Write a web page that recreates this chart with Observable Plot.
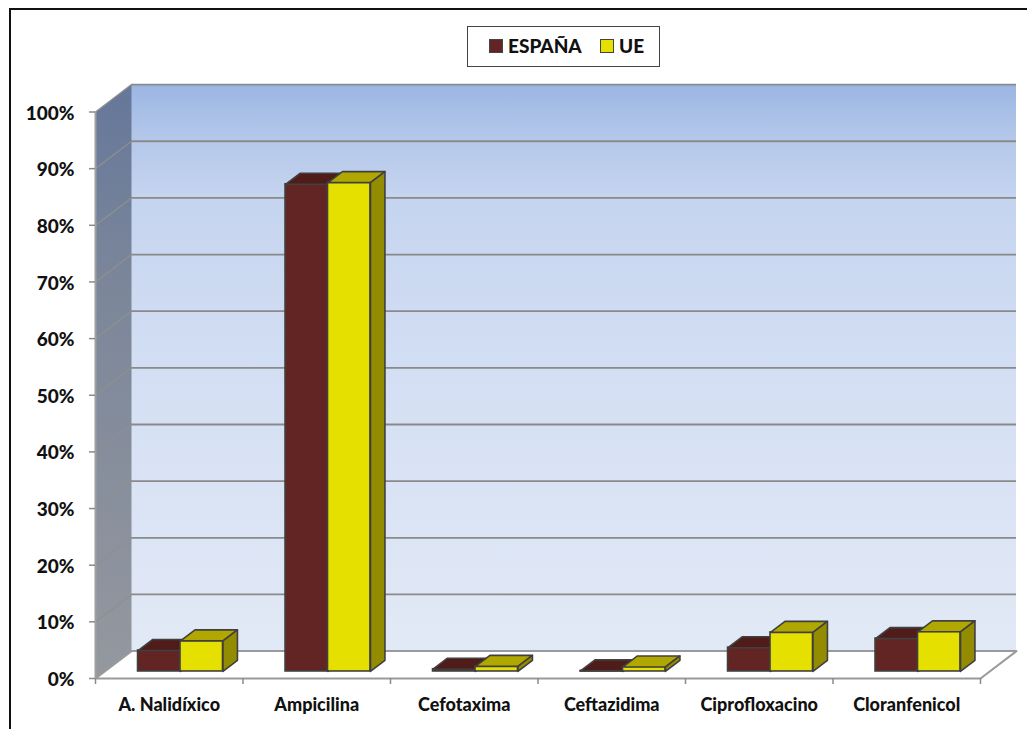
<!DOCTYPE html>
<html lang="es">
<head>
<meta charset="utf-8">
<script src="https://cdn.jsdelivr.net/npm/d3@7"></script>
<script src="https://cdn.jsdelivr.net/npm/@observablehq/plot@0.6"></script>
<style>
  html, body { margin: 0; padding: 0; background: #fff; overflow: hidden; }
  #chart { position: relative; width: 1027px; height: 729px; font-family: Lato, sans-serif; }
  #chart svg { position: absolute; left: 0; top: 0; }
  #frame { position: absolute; left: 9px; top: 8px; width: 1020px; height: 730px; border: 2px solid #111; box-sizing: border-box; }
  #legend { position: absolute; left: 467px; top: 26px; width: 193px; height: 41px; box-sizing: border-box;
            border: 1.5px solid #444; background: #fff; font-weight: 900; font-size: 19px; color: #111; }
  #legend i { position: absolute; top: 12px; width: 14px; height: 14px; box-sizing: border-box; border: 1.5px solid #444; }
  #legend span { position: absolute; top: 8px; line-height: 22px; }
</style>
</head>
<body>
<div id="chart">
  <div id="frame"></div>
  <div id="legend">
    <i style="left:21px;background:#632523"></i><span style="left:40px">ESPAÑA</span>
    <i style="left:132px;background:#e6e000"></i><span style="left:151px">UE</span>
  </div>
</div>
<script>
const categories = ["A. Nalidíxico", "Ampicilina", "Cefotaxima", "Ceftazidima", "Ciprofloxacino", "Cloranfenicol"];
const espana = [3.7, 86, 0.4, 0.1, 4.2, 5.8];
const ue = [5.4, 86.3, 0.9, 0.8, 6.9, 7];
const percentTicks = [0, 10, 20, 30, 40, 50, 60, 70, 80, 90, 100];

// Oblique projection, in data units: how far the back of the chart shifts
const depthX = 36 / 147.5;
const depthY = 27.4 / 5.665;
const barInsetX = 0.0763;   // front face of the bars, behind the front plane
const barInsetY = 1.24;
const barDepthX = 0.098;
const barDepthY = 1.94;
const barWidth = 0.288;

const seriesList = [
  {name: "ESPAÑA", values: espana, offset: -barWidth, front: "#632523", top: "#4f1c1a", side: "#3f1614"},
  {name: "UE", values: ue, offset: 0, front: "#e6e000", top: "#b0a800", side: "#948c00"}
];

// Front, top and side faces of every bar, drawn from the values
const fronts = [], tops = [], sides = [];
for (const s of seriesList) {
  s.values.forEach((v, i) => {
    const x0 = i + 0.5 + s.offset + barInsetX, x1 = x0 + barWidth;
    const y0 = barInsetY, y1 = barInsetY + v;
    const key = `${s.name}-${i}`;
    fronts.push({series: s.name, x1: x0, x2: x1, y1: y0, y2: y1, fill: s.front});
    [[x0, y1], [x1, y1], [x1 + barDepthX, y1 + barDepthY], [x0 + barDepthX, y1 + barDepthY], [x0, y1]]
      .forEach(([x, y]) => tops.push({key, series: s.name, x, y, fill: s.top}));
    [[x1, y0], [x1 + barDepthX, y0 + barDepthY], [x1 + barDepthX, y1 + barDepthY], [x1, y1], [x1, y0]]
      .forEach(([x, y]) => sides.push({key, series: s.name, x, y, fill: s.side}));
  });
}

const n = categories.length;
const sideWall = [
  {x: 0, y: 0}, {x: depthX, y: depthY}, {x: depthX, y: 100 + depthY}, {x: 0, y: 100}, {x: 0, y: 0}
];
const floor = [
  {x: 0, y: 0}, {x: depthX, y: depthY}, {x: n + depthX, y: depthY}, {x: n, y: 0}, {x: 0, y: 0}
];
const grid = percentTicks.filter(t => t > 0).map(t => ({y: t + depthY}));
const gridSide = percentTicks.flatMap(t => [{t, x: 0, y: t}, {t, x: depthX, y: t + depthY}]);

// Gradient definitions used by the back and side walls
const gradients = () => {
  const defs = d3.create("svg:defs");
  const add = (id, stops) => {
    const g = defs.append("linearGradient").attr("id", id).attr("x1", 0).attr("x2", 0).attr("y1", 0).attr("y2", 1);
    stops.forEach(([o, c]) => g.append("stop").attr("offset", o).attr("stop-color", c));
  };
  add("backWall", [[0, "#9bb6e3"], [0.1, "#b5c8ea"], [0.2, "#c5d4ef"], [0.55, "#d5e0f4"], [1, "#e2e9f6"]]);
  add("sideWall", [[0, "#65779a"], [0.33, "#7b869a"], [1, "#94989f"]]);
  return defs.node();
};

const faces = (name) => [
  Plot.rect(fronts.filter(d => d.series === name), {x1: "x1", x2: "x2", y1: "y1", y2: "y2", fill: "fill", stroke: "#404040", strokeWidth: 1.6}),
  Plot.line(tops.filter(d => d.series === name), {x: "x", y: "y", z: "key", fill: "fill", stroke: "#404040", strokeWidth: 1.6, curve: "linear"}),
  Plot.line(sides.filter(d => d.series === name), {x: "x", y: "y", z: "key", fill: "fill", stroke: "#404040", strokeWidth: 1.6, curve: "linear"})
];

const plot = Plot.plot({
  width: 1027,
  height: 729,
  marginLeft: 95,
  marginRight: 47,
  marginTop: 111.5,
  marginBottom: 51,
  x: {type: "linear", domain: [0, n], range: [95, 980]},
  y: {type: "linear", domain: [0, 100], range: [678, 111.5]},
  style: {fontFamily: "Lato, sans-serif", background: "transparent"},
  marks: [
    gradients,
    Plot.rect([0], {x1: depthX, x2: n + depthX, y1: depthY, y2: 100 + depthY, fill: "url(#backWall)"}),
    Plot.line(sideWall, {x: "x", y: "y", fill: "url(#sideWall)", stroke: "none"}),
    Plot.ruleY(grid, {y: "y", x1: depthX, x2: n + depthX, stroke: "#8a8a8a", strokeWidth: 1.8}),
    Plot.line(gridSide, {x: "x", y: "y", z: "t", stroke: "#8f8f8f", strokeWidth: 1.3}),
    Plot.line(floor, {x: "x", y: "y", fill: "#ffffff", stroke: "#9a9a9a", strokeWidth: 2}),
    Plot.ruleX([0], {y1: 0, y2: 100, stroke: "#a0a0a0", strokeWidth: 2}),
    ...faces("ESPAÑA"),
    ...faces("UE"),
    Plot.axisY({
      ticks: percentTicks, tickFormat: () => "", tickSize: 6, stroke: "#8a8a8a", strokeWidth: 1.5, label: null
    }),
    Plot.axisY({
      ticks: percentTicks, tickFormat: d => `${d}%`, tickSize: 0, tickPadding: 21, dy: 1.5,
      fontSize: 19, fontWeight: 900, color: "#111", label: null
    }),
    Plot.axisX({
      ticks: d3.range(n + 1), tickFormat: () => "", tickSize: 6, stroke: "#8a8a8a", strokeWidth: 1.5, label: null
    }),
    Plot.axisX({
      ticks: categories.map((_, i) => i + 0.5), tickFormat: d => categories[d - 0.5], tickSize: 0, tickPadding: 20,
      fontSize: 18, fontWeight: 900, color: "#111", label: null
    })
  ]
});
document.getElementById("chart").prepend(plot);
</script>
</body>
</html>
